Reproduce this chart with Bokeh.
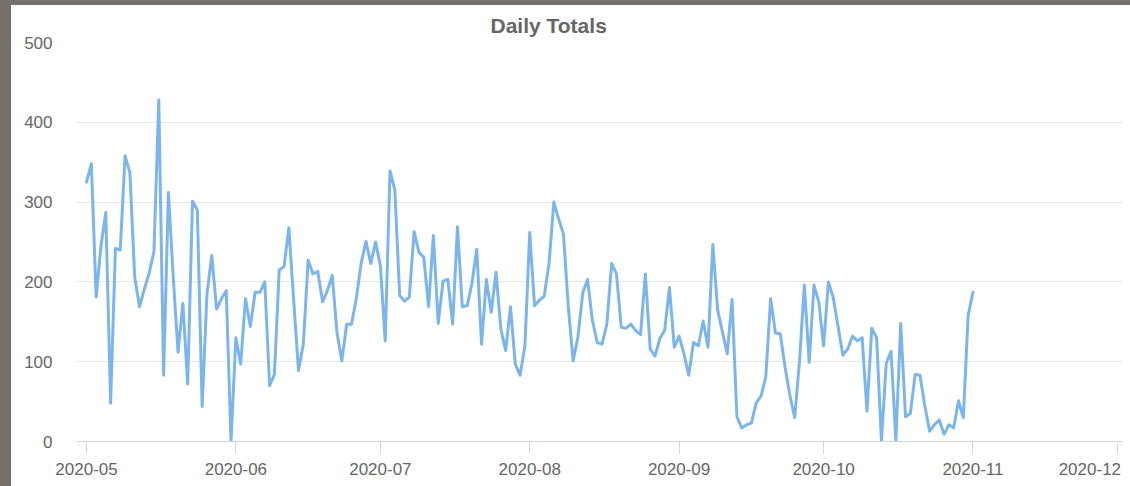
import pandas as pd
from bokeh.plotting import figure
from bokeh.layouts import column, row
from bokeh.models import Range1d, FixedTicker, CustomJSTickFormatter, Spacer
from bokeh.embed import file_html
from bokeh.resources import INLINE

# ---- data ----
start_date = "2020-05-01"
daily_totals = [
    325, 348, 181, 245, 287, 48, 242, 240, 358, 337,
    206, 169, 191, 211, 238, 428, 83, 312, 206, 112,
    173, 72, 301, 290, 44, 185, 233, 166, 179, 189,
    1, 130, 97, 179, 144, 187, 187, 200, 70, 84,
    215, 219, 268, 177, 89, 122, 227, 210, 213, 175,
    189, 208, 136, 101, 147, 147, 179, 223, 251, 223,
    250, 220, 126, 339, 315, 183, 176, 181, 263, 237,
    231, 169, 258, 148, 201, 203, 147, 269, 169, 170,
    198, 241, 122, 203, 162, 212, 141, 114, 169, 97,
    83, 120, 262, 170, 177, 182, 223, 300, 279, 260,
    169, 101, 131, 186, 203, 152, 124, 122, 147, 223,
    210, 143, 142, 147, 139, 134, 210, 116, 107, 129,
    139, 193, 118, 132, 110, 83, 124, 120, 151, 118,
    247, 165, 137, 110, 178, 31, 17, 21, 23, 48,
    57, 81, 179, 136, 135, 93, 58, 30, 101, 196,
    99, 196, 175, 120, 200, 180, 144, 108, 116, 132,
    126, 130, 38, 142, 130, 1, 98, 113, 1, 148,
    31, 35, 84, 83, 45, 13, 21, 27, 9, 21,
    17, 51, 30, 158, 187,
]
x_tick_labels = ["2020-05", "2020-06", "2020-07", "2020-08", "2020-09",
                 "2020-10", "2020-11", "2020-12"]
y_ticks = [0, 100, 200, 300, 400, 500]
title_text = "Daily Totals"

dates = pd.date_range(start_date, periods=len(daily_totals), freq="D")
tick_dates = [pd.Timestamp(s + "-01") for s in x_tick_labels]
tick_ms = [t.value / 1e6 for t in tick_dates]

day_ms = 86400000.0
x_start = tick_ms[0] - 2.08 * day_ms
x_end = tick_ms[-1] + 1.04 * day_ms

FONT = "Liberation Sans"
LABEL_COLOR = "#666666"
FRAME_COLOR = "#74706e"

p = figure(width=1119, height=481, x_axis_type="datetime",
           output_backend="svg", toolbar_location=None,
           x_range=Range1d(x_start, x_end), y_range=Range1d(0, 500),
           min_border_left=65, min_border_right=8, min_border_top=37,
           min_border_bottom=45)

p.title.text = title_text
p.title.align = "left"
p.title.offset = 414
p.title.text_font = FONT
p.title.text_font_size = "21px"
p.title.text_font_style = "bold"
p.title.text_color = "#666666"
p.title.standoff = 12

p.outline_line_color = None
p.background_fill_color = "white"
p.border_fill_color = "white"

p.line(dates, daily_totals, line_color="#7cb5ec", line_width=3,
       line_join="round", line_cap="round")

# x axis (last label kept inside the chart)
xa = p.xaxis[0]
xa.ticker = FixedTicker(ticks=tick_ms)
xa.formatter = CustomJSTickFormatter(
    args=dict(tvals=tick_ms, tlabels=x_tick_labels), code="""
    const i = tvals.indexOf(tick);
    if (i < 0) { return ""; }
    if (i == tvals.length - 1) { return tlabels[i] + "\\u00a0".repeat(2); }
    return tlabels[i];
""")
xa.axis_line_color = "#ccd6eb"
xa.axis_line_width = 1
xa.major_tick_line_color = "#ccd6eb"
xa.major_tick_out = 12
xa.major_tick_in = 0
xa.minor_tick_line_color = None
xa.major_label_standoff = 6
xa.major_label_text_font = FONT
xa.major_label_text_font_size = "17px"
xa.major_label_text_color = LABEL_COLOR

# y axis
ya = p.yaxis[0]
ya.ticker = FixedTicker(ticks=y_ticks)
ya.axis_line_color = None
ya.major_tick_line_color = None
ya.minor_tick_line_color = None
ya.major_tick_out = 0
ya.major_tick_in = 0
ya.major_label_standoff = 24
ya.major_label_text_font = FONT
ya.major_label_text_font_size = "17px"
ya.major_label_text_color = LABEL_COLOR

p.xgrid.grid_line_color = None
p.ygrid.grid_line_color = "#e6e6e6"
p.ygrid.grid_line_width = 1
p.ygrid.ticker = FixedTicker(ticks=y_ticks)

top_strip = Spacer(width=1130, height=5, styles={"background-color": FRAME_COLOR})
left_strip = Spacer(width=11, height=481, styles={"background-color": FRAME_COLOR})
layout = column(top_strip, row(left_strip, p, spacing=0), spacing=0)

open("out.html", "w").write(file_html(layout, INLINE))
